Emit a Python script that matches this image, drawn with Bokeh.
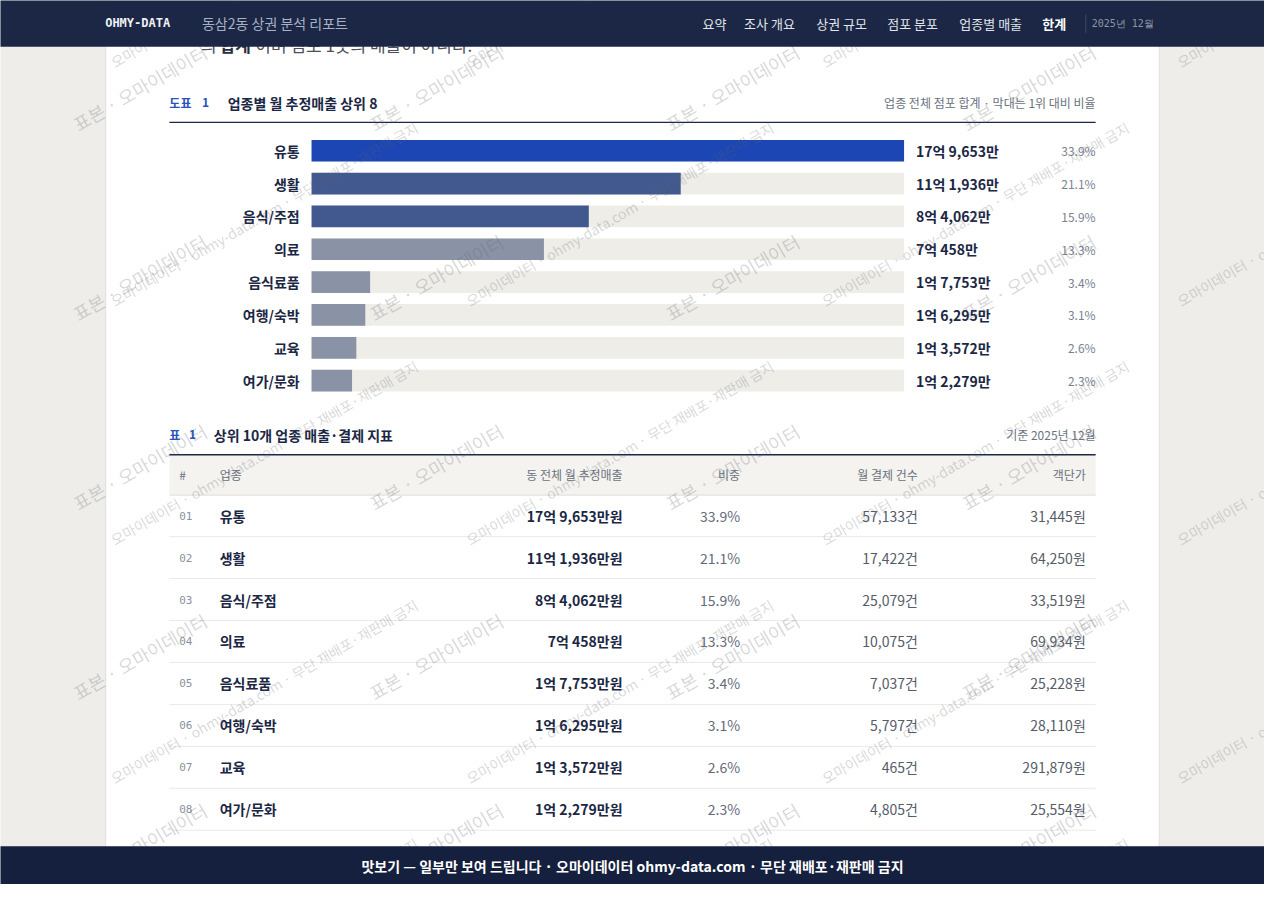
import math
from bokeh.plotting import figure
from bokeh.models import Range1d, ColumnDataSource
from bokeh.core.properties import value
from bokeh.embed import file_html
from bokeh.resources import INLINE

# ---- data ----
categories = ["유통", "생활", "음식/주점", "의료", "음식료품", "여행/숙박", "교육", "여가/문화"]
sales_man = [179653, 111936, 84062, 70458, 17753, 16295, 13572, 12279]   # 만원
share_pct = [33.9, 21.1, 15.9, 13.3, 3.4, 3.1, 2.6, 2.3]
payments = [57133, 17422, 25079, 10075, 7037, 5797, 465, 4805]           # 건
ticket_won = [31445, 64250, 33519, 69934, 25228, 28110, 291879, 25554]   # 원

nav_items = ["요약", "조사 개요", "상권 규모", "점포 분포", "업종별 매출", "한계"]
nav_x = [711, 753, 826, 898, 971, 1055]
table_cols = ["#", "업종", "동 전체 월 추정매출", "비중", "월 결제 건수", "객단가"]

KR = "Noto Sans CJK KR"
MONO = "DejaVu Sans Mono"
NAVY = "#1b2744"
BG = "#eeede9"

# page space of the report: 1280 x 900, y downwards
PX0, PX1, PY0, PY1 = 0, 1280, 0, 900


def won(v):
    eok, man = divmod(v, 10000)
    return f"{eok}억 {man:,}만"


p = figure(width=1264, height=884, x_range=Range1d(PX0, PX1), y_range=Range1d(PY1, PY0),
           output_backend="svg", toolbar_location=None, min_border=0)
p.xaxis.visible = False
p.yaxis.visible = False
p.grid.visible = False
p.outline_line_color = None
p.background_fill_color = BG
p.border_fill_color = BG

# bar chart scales: value 0 -> x 315, max -> x 915 ; rank 0 -> y 153, step 33.43
vmax = max(sales_man)
BX0, BW = 315, 600
p.extra_x_ranges = {"bar": Range1d(start=(PX0 - BX0) / BW * vmax, end=(PX1 - BX0) / BW * vmax)}
R0, RS = 153, 33.43
T0, TS = 524.5, 42.7
p.extra_y_ranges = {
    "rank": Range1d(start=(PY1 - R0) / RS, end=(PY0 - R0) / RS),
    "row": Range1d(start=(PY1 - T0) / TS, end=(PY0 - T0) / TS),
}


def txt(x, y, s, size, color, bold=False, align="left", font=KR, yr="default", alpha=1.0, angle=0.0,
        baseline="middle"):
    if not isinstance(x, list):
        x, y, s = [x], [y], [s]
    p.text(x=x, y=y, text=s, text_font=value(font), text_font_size=f"{size}px",
           text_color=color, text_font_style="bold" if bold else "normal",
           text_align=align, text_baseline=baseline, y_range_name=yr,
           text_alpha=alpha, angle=angle)


# paper
p.quad(left=107, right=1173, top=-10, bottom=910, fill_color="white", line_color=None)
p.segment(x0=[106.5, 1173.5], y0=[-10, -10], x1=[106.5, 1173.5], y1=[910, 910],
          line_color="#e2e1dc", line_width=1)

# text cut by the header
txt(203, 45, "의", 17, "#4a4f5a")
txt(222, 45, "합계", 17, "#2a2f3a", bold=True)
txt(258, 45, "이며 점포 1곳의 매출이 아니다.", 17, "#4a4f5a")

# ---- chart 1 ----
txt(171, 104, "도표", 12, "#2a52be", bold=True)
txt(204, 104, "1", 12, "#2a52be", bold=True)
txt(230, 104, "업종별 월 추정매출 상위 8", 14, NAVY, bold=True)
txt(1109, 104, "업종 전체 점포 합계 · 막대는 1위 대비 비율", 12, "#6b7280", align="right")
p.segment(x0=[171], y0=[124], x1=[1109], y1=[124], line_color=NAVY, line_width=1.2)

ranks = list(range(len(categories)))
bar_colors = ["#1c46b4" if i == 0 else "#42598f" if i < 3 else "#8a93a6" for i in ranks]
src = ColumnDataSource(dict(rank=ranks, cat=categories, v=sales_man, full=[vmax] * len(ranks),
                            col=bar_colors, lab=[won(v) for v in sales_man],
                            pct=[f"{s:.1f}%" for s in share_pct]))
p.hbar(y="rank", left=0, right="full", height=0.66, source=src, fill_color="#eeede8",
       line_color=None, x_range_name="bar", y_range_name="rank")
p.hbar(y="rank", left=0, right="v", height=0.66, source=src, fill_color="col",
       line_color=None, x_range_name="bar", y_range_name="rank")
p.text(x=303, y="rank", text="cat", source=src, text_font=value(KR), text_font_size="14px",
       text_font_style="bold", text_color=NAVY, text_align="right", text_baseline="middle",
       y_range_name="rank")
p.text(x=927, y="rank", text="lab", source=src, text_font=value(KR), text_font_size="14px",
       text_font_style="bold", text_color=NAVY, text_align="left", text_baseline="middle",
       y_range_name="rank")
p.text(x=1109, y="rank", text="pct", source=src, text_font=value(KR), text_font_size="12px",
       text_color="#7a8190", text_align="right", text_baseline="middle", y_range_name="rank")

# ---- table 1 ----
txt(171, 442, "표", 12, "#2a52be", bold=True)
txt(191, 442, "1", 12, "#2a52be", bold=True)
txt(216, 442, "상위 10개 업종 매출·결제 지표", 14, NAVY, bold=True)
txt(1109, 442, "기준 2025년 12월", 12, "#6b7280", align="right")
p.quad(left=171, right=1109, top=463, bottom=503, fill_color="#f4f3ef", line_color=None)
p.segment(x0=[171], y0=[462.5], x1=[1109], y1=[462.5], line_color=NAVY, line_width=1.4)
p.segment(x0=[171], y0=[503.5], x1=[1109], y1=[503.5], line_color="#d9d7d1", line_width=1)
head_x = [181, 222, 630, 749, 929, 1099]
head_al = ["left", "left", "right", "right", "right", "right"]
for hx, ha, hs in zip(head_x, head_al, table_cols):
    txt(hx, 483, hs, 12, "#6b7280", align=ha)

tsrc = ColumnDataSource(dict(
    row=ranks, sep=[r + 0.5 for r in ranks], num=[f"{r + 1:02d}" for r in ranks], cat=categories,
    rev=[won(v) + "원" for v in sales_man], pct=[f"{s:.1f}%" for s in share_pct],
    cnt=[f"{c:,}건" for c in payments], tic=[f"{t:,}원" for t in ticket_won]))
p.segment(x0=171, y0="sep", x1=1109, y1="sep", source=tsrc, line_color="#ebe9e4",
          line_width=1, y_range_name="row")
cols = [("num", 181, "left", MONO, "11px", "normal", "#8a909c"),
        ("cat", 222, "left", KR, "14px", "bold", NAVY),
        ("rev", 630, "right", KR, "14px", "bold", NAVY),
        ("pct", 749, "right", KR, "14px", "normal", "#646b78"),
        ("cnt", 929, "right", KR, "14px", "normal", "#555c68"),
        ("tic", 1099, "right", KR, "14px", "normal", "#555c68")]
for field, cx, al, fnt, fs, fst, fc in cols:
    p.text(x=cx, y="row", text=field, source=tsrc, text_font=value(fnt), text_font_size=fs,
           text_font_style=fst, text_color=fc, text_align=al, text_baseline="middle",
           y_range_name="row")

# ---- watermarks ----
wa_x, wa_y = [], []
for gx in [75, 375, 675, 975]:
    for gy in [127, 320, 513, 706, 899]:
        wa_x.append(gx)
        wa_y.append(gy)
txt(wa_x, wa_y, ["표본 · 오마이데이터"] * len(wa_x), 18, "#5f646e", alpha=0.26,
    angle=math.radians(30), baseline="alphabetic")
wb_x, wb_y = [], []
for gx in [113, 473, 833, 1193]:
    for gy in [64, 307, 550, 793, 1036]:
        wb_x.append(gx)
        wb_y.append(gy)
txt(wb_x, wb_y, ["오마이데이터 · ohmy-data.com · 무단 재배포·재판매 금지"] * len(wb_x), 14,
    "#5f646e", alpha=0.26, angle=math.radians(30), baseline="alphabetic")

# ---- header ----
p.quad(left=-10, right=1290, top=-10, bottom=47, fill_color=NAVY, line_color=None)
txt(106, 23, "OHMY-DATA", 12, "#eef0f5", bold=True, font=MONO)
txt(204, 23, "동삼2동 상권 분석 리포트", 14, "#a9b1c4")
for nx, ns in zip(nav_x, nav_items):
    last = ns == nav_items[-1]
    txt(nx, 23, ns, 13, "#ffffff" if last else "#e2e5ec", bold=last)
p.segment(x0=[1099], y0=[14], x1=[1099], y1=[33], line_color="#3b4767", line_width=1)
txt(1105, 23, "2025년 12월", 10, "#8d95a8", font=MONO)

# ---- footer ----
p.quad(left=-10, right=1290, top=861, bottom=910, fill_color="#15203e", line_color=None)
txt(640, 881, "맛보기 — 일부만 보여 드립니다 · 오마이데이터 ohmy-data.com · 무단 재배포·재판매 금지",
    14, "#ffffff", bold=True, align="center")

open("out.html", "w").write(file_html(p, INLINE))
